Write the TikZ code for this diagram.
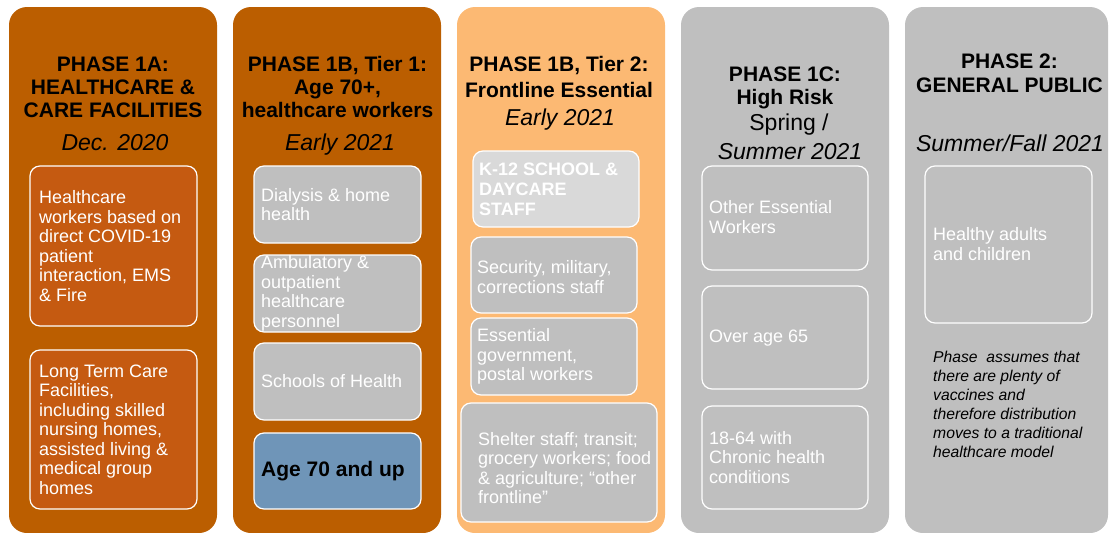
\documentclass[tikz,border=0pt]{standalone}
\usepackage{fontspec}
\setmainfont{Liberation Sans}
\definecolor{dkorange}{RGB}{187,94,0}
\definecolor{ltorange}{RGB}{252,185,115}
\definecolor{boxorange}{RGB}{197,90,17}
\definecolor{gry}{RGB}{191,191,191}
\definecolor{ltgry}{RGB}{217,217,217}
\definecolor{blu}{RGB}{111,149,184}
\tikzset{
  colbox/.style={rounded corners=18pt, inner sep=0pt, minimum width=208pt, minimum height=526pt},
  ibox/.style={draw=white, line width=1.2pt, rounded corners=10pt, inner sep=0pt},
  ttl/.style={font=\bfseries\fontsize{21}{23}\selectfont, align=center, anchor=north, inner sep=0pt},
  datetxt/.style={font=\itshape\fontsize{23}{26}\selectfont, anchor=base, inner sep=0pt},
  itxt/.style={font=\fontsize{18}{19.5}\selectfont, align=left, text=white, anchor=west, inner sep=0pt},
  btxt/.style={font=\bfseries\fontsize{18}{20}\selectfont, align=left, text=white, anchor=west, inner sep=0pt},
  note/.style={font=\itshape\fontsize{15.7}{19}\selectfont, align=left, anchor=west, inner sep=0pt}
}
\begin{document}
\begin{tikzpicture}[x=1pt,y=-1pt]
\clip (0,0) rectangle (1109,533);
% columns
\node[colbox, fill=dkorange] (c1) at (113,270) {};
\node[colbox, fill=dkorange] (c2) at (337,270) {};
\node[colbox, fill=ltorange] (c3) at (561,270) {};
\node[colbox, fill=gry] (c4) at (785,270) {};
\node[colbox, fill=gry, minimum width=203pt] (c5) at (1006.5,270) {};

% column 1
\node[ttl] (t1) at (113,56.5) {PHASE 1A:\\HEALTHCARE \&\\CARE FACILITIES};
\node[datetxt] (d1) at (115,150.5) {Dec. 2020};
\node[ibox, fill=boxorange, minimum width=167pt, minimum height=160pt] (b11) at (113.5,246) {};
\node[itxt] (x11) at (39,246) {Healthcare\\workers based on\\direct COVID-19\\patient\\interaction, EMS\\\& Fire};
\node[ibox, fill=boxorange, minimum width=167pt, minimum height=159pt] (b12) at (113.5,429.5) {};
\node[itxt] (x12) at (39,429.5) {Long Term Care\\Facilities,\\including skilled\\nursing homes,\\assisted living \&\\medical group\\homes};

% column 2
\node[ttl] (t2) at (337.5,56.5) {PHASE 1B, Tier 1:\\Age 70+,\\healthcare workers};
\node[datetxt] (d2) at (340,150.5) {Early 2021};
\node[ibox, fill=gry, minimum width=167pt, minimum height=77pt] (b21) at (337.5,204.5) {};
\node[itxt] (x21) at (261,204.5) {Dialysis \& home\\health};
\node[ibox, fill=gry, minimum width=167pt, minimum height=77pt] (b22) at (337.5,293.5) {};
\node[itxt] (x22) at (261,293.5) {Ambulatory \&\\outpatient\\healthcare\\personnel};
\node[ibox, fill=gry, minimum width=167pt, minimum height=77pt] (b23) at (337.5,381.5) {};
\node[itxt] (x23) at (261,381.5) {Schools of Health};
\node[ibox, fill=blu, minimum width=167pt, minimum height=76pt] (b24) at (337.5,471) {};
\node[btxt, text=black, font=\bfseries\fontsize{21}{23}\selectfont] (x24) at (261,471) {Age 70 and up};

% column 3
\node[ttl, font=\bfseries\fontsize{21}{26}\selectfont] (t3) at (559,56.5) {PHASE 1B, Tier 2:\\Frontline Essential};
\node[datetxt] (d3) at (560,125) {Early 2021};
\node[ibox, fill=ltgry, minimum width=166pt, minimum height=76pt] (b31) at (556,189) {};
\node[btxt] (x31) at (479,189) {K-12 SCHOOL \&\\DAYCARE\\STAFF};
\node[ibox, fill=gry, minimum width=166pt, minimum height=76pt] (b32) at (554,275) {};
\node[itxt] (x32) at (477,277) {Security, military,\\corrections staff};
\node[ibox, fill=gry, minimum width=166pt, minimum height=77pt] (b33) at (554,356.5) {};
\node[itxt] (x33) at (477,356.5) {Essential\\government,\\postal workers};
\node[ibox, fill=gry, minimum width=196pt, minimum height=119pt] (b34) at (559,462.5) {};
\node[itxt] (x34) at (478,468) {Shelter staff; transit;\\grocery workers; food\\\& agriculture; “other\\frontline”};

% column 4
\node[ttl] (t4) at (785,66.5) {PHASE 1C:\\High Risk};
\node[anchor=base, inner sep=0pt, font=\fontsize{23}{26}\selectfont] (s4) at (789,130.5) {Spring /};
\node[datetxt] (d4) at (790,159.5) {Summer 2021};
\node[ibox, fill=gry, minimum width=166pt, minimum height=104pt] (b41) at (785,218) {};
\node[itxt] (x41) at (709,217) {Other Essential\\Workers};
\node[ibox, fill=gry, minimum width=166pt, minimum height=103pt] (b42) at (785,337.5) {};
\node[itxt] (x42) at (709,338) {Over age 65};
\node[ibox, fill=gry, minimum width=166pt, minimum height=103pt] (b43) at (785,457.5) {};
\node[itxt] (x43) at (709,457.5) {18-64 with\\Chronic health\\conditions};

% column 5
\node[ttl, font=\bfseries\fontsize{21}{24}\selectfont] (t5) at (1009.5,53.5) {PHASE 2:\\GENERAL PUBLIC};
\node[datetxt] (d5) at (1010,151.5) {Summer/Fall 2021};
\node[ibox, fill=gry, minimum width=167pt, minimum height=157pt] (b51) at (1008.5,244.5) {};
\node[itxt] (x51) at (933,244) {Healthy adults\\and children};
\node[note] (n5) at (933,404.5) {Phase\ \ assumes that\\there are plenty of\\vaccines and\\therefore distribution\\moves to a traditional\\healthcare model};
\end{tikzpicture}
\end{document}
